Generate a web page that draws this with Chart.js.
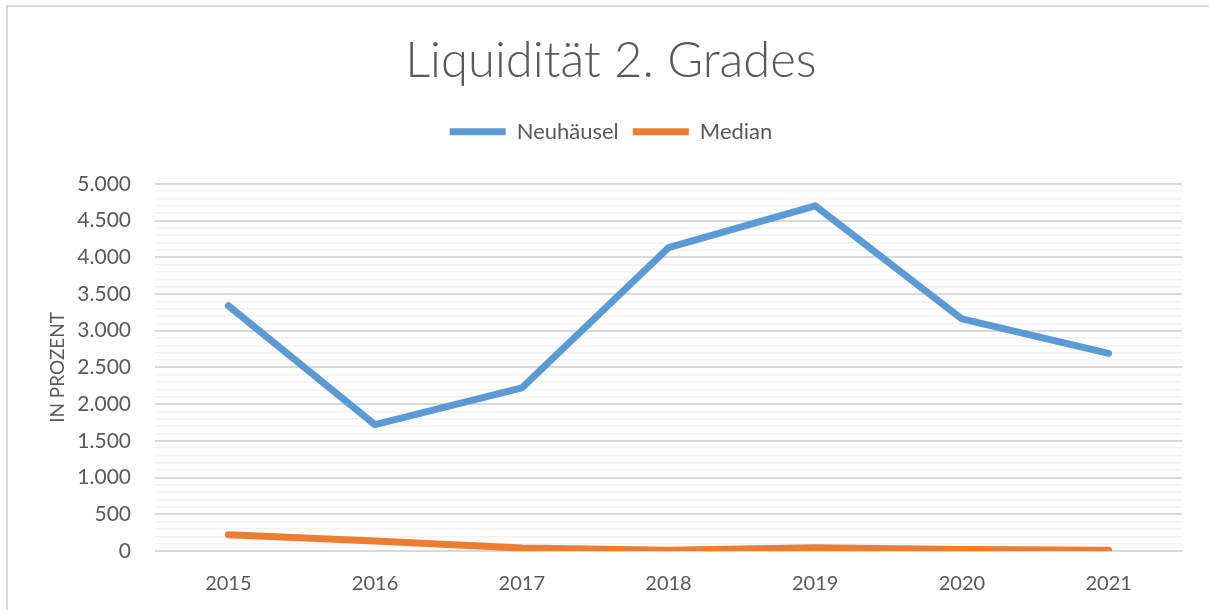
<!DOCTYPE html>
<html>
<head>
<meta charset="utf-8">
<script src="https://cdn.jsdelivr.net/npm/chart.js@4"></script>
<style>
  body { margin: 0; background: #fff; }
  #wrap { position: relative; width: 1209px; height: 610px; overflow: hidden; }
  #frame { position: absolute; left: 6px; top: 5px; width: 1400px; height: 800px;
           border-left: 2px solid #d9d9d9; border-top: 2px solid #d9d9d9; }
  canvas { position: absolute; left: 0; top: 0; }
</style>
</head>
<body>
<div id="wrap">
  <div id="frame"></div>
  <canvas id="myLineChart" width="1209" height="610"></canvas>
</div>
<script>
// chart data
let years = ['2015', '2016', '2017', '2018', '2019', '2020', '2021'];
let neuhaeusel = [3340, 1720, 2220, 4130, 4700, 3160, 2690];
let median = [222, 136, 40, 10, 45, 20, 10];
let yMax = 5000;

let textColor = '#595959';
let fontName = 'Lato, "Open Sans", sans-serif';

// german thousands separator: 5000 -> 5.000
function formatDe(v) {
    return String(v).replace(/\B(?=(\d{3})+(?!\d))/g, '.');
}

// push the plot area down under the legend
const legendMargin = {
    id: 'legendMargin',
    beforeInit(chart) {
        const fit = chart.legend.fit;
        chart.legend.fit = function () {
            fit.bind(chart.legend)();
            this.height += 31;
        };
    }
};

let ctx = document.getElementById('myLineChart').getContext('2d');

let myLineChart = new Chart(ctx, {
    type: 'line',
    data: {
        labels: years,
        datasets: [{
            label: 'Neuhäusel',
            data: neuhaeusel,
            borderColor: '#5B9BD5',
            backgroundColor: '#5B9BD5',
            borderWidth: 7,
            borderCapStyle: 'round',
            borderJoinStyle: 'round',
            pointRadius: 0,
            pointStyle: 'line',
            tension: 0
        }, {
            label: 'Median',
            data: median,
            borderColor: '#ED7D31',
            backgroundColor: '#ED7D31',
            borderWidth: 7,
            borderCapStyle: 'round',
            borderJoinStyle: 'round',
            pointRadius: 0,
            pointStyle: 'line',
            tension: 0
        }]
    },
    options: {
        responsive: false,
        animation: false,
        layout: { padding: { top: 22, left: 40, right: 27, bottom: 16 } },
        plugins: {
            title: {
                display: true,
                text: 'Liquidität 2. Grades',
                color: textColor,
                font: { family: fontName, size: 49, weight: 300 },
                padding: { top: 10, bottom: 16 }
            },
            legend: {
                labels: {
                    usePointStyle: true,
                    pointStyleWidth: 56,
                    color: textColor,
                    font: { family: fontName, size: 22 },
                    padding: 14
                }
            },
            tooltip: { enabled: false }
        },
        scales: {
            x: {
                offset: true,
                afterFit(scale) { scale.height = 43; },
                grid: { display: false, drawTicks: false },
                border: { display: false },
                ticks: {
                    color: textColor,
                    font: { family: fontName, size: 20 },
                    padding: 21,
                    maxRotation: 0
                }
            },
            y: {
                min: 0,
                max: yMax,
                afterFit(scale) { scale.width = 115; },
                border: { display: false },
                grid: {
                    drawTicks: false,
                    lineWidth: (c) => c.tick && c.tick.value % 500 === 0 ? 2 : 1.5,
                    color: (c) => c.tick && c.tick.value % 500 === 0 ? '#d9d9d9' : '#f2f2f2'
                },
                ticks: {
                    stepSize: 100,
                    autoSkip: false,
                    padding: 24,
                    color: textColor,
                    font: { family: fontName, size: 21 },
                    callback: (v) => v % 500 === 0 ? formatDe(v) : ''
                },
                title: {
                    display: true,
                    text: 'IN PROZENT',
                    color: textColor,
                    font: { family: fontName, size: 19 },
                    padding: { top: 6, bottom: 0 }
                }
            }
        }
    },
    plugins: [legendMargin]
});
</script>
</body>
</html>
